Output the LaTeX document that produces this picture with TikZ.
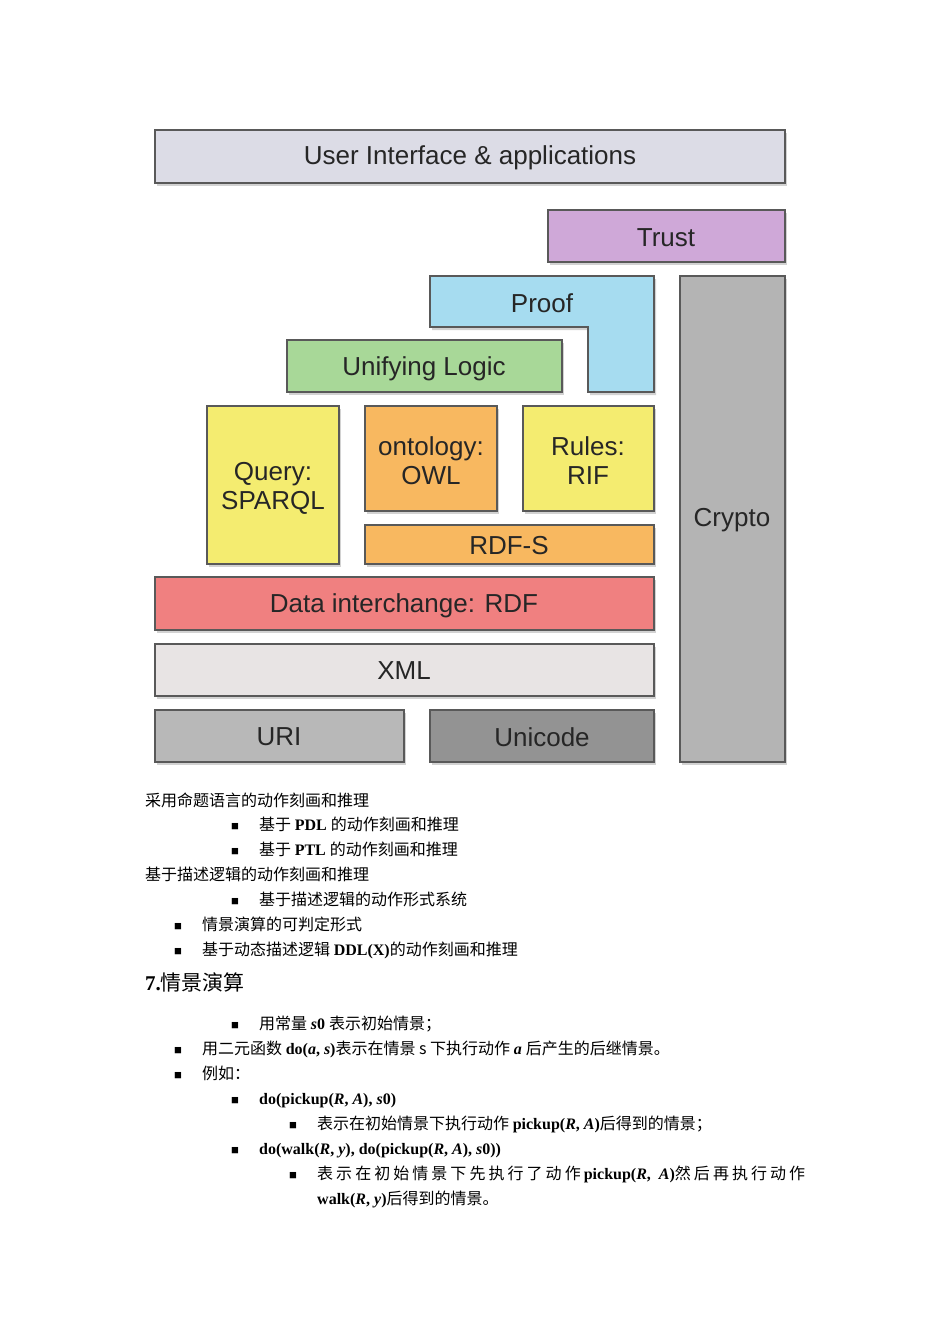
\documentclass[tikz,border=0pt]{standalone}
\usepackage{fontspec}
\setmainfont{Liberation Serif}
\newfontfamily\dsans{Liberation Sans}
\newfontfamily\cjk{Noto Sans CJK SC}
\usetikzlibrary{shadows}
\definecolor{cUI}{HTML}{DCDCE6}
\definecolor{cTrust}{HTML}{CFA8D8}
\definecolor{cProof}{HTML}{A6DCF0}
\definecolor{cLogic}{HTML}{A8D898}
\definecolor{cYel}{HTML}{F4EC70}
\definecolor{cOra}{HTML}{F8B860}
\definecolor{cRed}{HTML}{F08080}
\definecolor{cXML}{HTML}{E8E4E4}
\definecolor{cURI}{HTML}{B8B8B8}
\definecolor{cUni}{HTML}{939393}
\definecolor{cCry}{HTML}{B4B4B4}
\tikzset{
 blk/.style={draw=black!65, line width=1.2pt, drop shadow={shadow xshift=2pt,shadow yshift=-3pt,opacity=0.35}},
 lab/.style={font=\dsans\fontsize{26}{29}\selectfont, align=center, text=black!85},
 t/.style={anchor=base west, inner sep=0pt, font=\fontsize{16}{18}\selectfont},
 bul/.style={anchor=base west, inner sep=0pt, font=\fontsize{13}{14}\selectfont}
}
\begin{document}
\begin{tikzpicture}[x=1pt,y=-1pt]
\useasboundingbox[fill=white] (0,0) rectangle (950,1344);
\fill[blk,fill=cUI] (155,130) rectangle (785,183);
\node[lab] (ui) at (470,158) {User Interface \& applications};
\fill[blk,fill=cTrust] (548,210) rectangle (785,262);
\node[lab] (tr) at (666,238) {Trust};
\fill[blk,fill=cProof] (430,276) -- (654,276) -- (654,392) -- (588,392) -- (588,327) -- (430,327) -- cycle;
\node[lab] (pr) at (542,303) {Proof};
\fill[blk,fill=cLogic] (287,340) rectangle (562,392);
\node[lab] (ul) at (424,369) {Unifying Logic};
\fill[blk,fill=cYel] (207,406) rectangle (339,564);
\node[lab] (q) at (273,488) {Query:\\SPARQL};
\fill[blk,fill=cOra] (365,406) rectangle (497,511);
\node[lab] (o) at (431,461) {ontology:\\OWL};
\fill[blk,fill=cYel] (523,406) rectangle (654,511);
\node[lab] (r) at (588,461) {Rules:\\RIF};
\fill[blk,fill=cOra] (365,525) rectangle (654,564);
\node[lab] (rs) at (509,546) {RDF-S};
\fill[blk,fill=cRed] (155,577) rectangle (654,630);
\node[lab] (d) at (404,606) {Data interchange: RDF};
\fill[blk,fill=cXML] (155,644) rectangle (654,696);
\node[lab] (x) at (404,671) {XML};
\fill[blk,fill=cURI] (155,710) rectangle (404,762);
\node[lab] (u) at (279,737) {URI};
\fill[blk,fill=cUni] (430,710) rectangle (654,762);
\node[lab] (un) at (542,737) {Unicode};
\fill[blk,fill=cCry] (680,276) rectangle (785,762);
\node[lab] (c) at (732,520) {Crypto};

\node[t] (l1) at (145,806) {\cjk 采用命题语言的动作刻画和推理};
\node[bul] (b2) at (231,830) {■}; \node[t] (l2) at (259,830) {{\cjk 基于 }\textbf{PDL} {\cjk 的动作刻画和推理}};
\node[bul] (b3) at (231,855) {■}; \node[t] (l3) at (259,855) {{\cjk 基于 }\textbf{PTL} {\cjk 的动作刻画和推理}};
\node[t] (l4) at (145,880) {\cjk 基于描述逻辑的动作刻画和推理};
\node[bul] (b5) at (231,905) {■}; \node[t] (l5) at (259,905) {\cjk 基于描述逻辑的动作形式系统};
\node[bul] (b6) at (174,930) {■}; \node[t] (l6) at (202,930) {\cjk 情景演算的可判定形式};
\node[bul] (b7) at (174,955) {■}; \node[t] (l7) at (202,955) {{\cjk 基于动态描述逻辑 }\textbf{DDL(X)}{\cjk 的动作刻画和推理}};
\node[t,font=\fontsize{21}{24}\selectfont] (h) at (145,990) {\textbf{7.}{\cjk 情景演算}};
\node[bul] (b8) at (231,1029) {■}; \node[t] (l8) at (259,1029) {{\cjk 用常量 }\textbf{\textit{s}0} {\cjk 表示初始情景；}};
\node[bul] (b9) at (174,1054) {■}; \node[t] (l9) at (202,1054) {{\cjk 用二元函数 }\textbf{do(\textit{a}, \textit{s})}{\cjk 表示在情景 s 下执行动作 }\textbf{\textit{a}} {\cjk 后产生的后继情景。}};
\node[bul] (b10) at (174,1079) {■}; \node[t] (l10) at (202,1079) {\cjk 例如：};
\node[bul] (b11) at (231,1104) {■}; \node[t] (l11) at (259,1104) {\textbf{do(pickup(\textit{R}, \textit{A}), \textit{s}0)}};
\node[bul] (b12) at (289,1129) {■}; \node[t] (l12) at (317,1129) {{\cjk 表示在初始情景下执行动作 }\textbf{pickup(\textit{R}, \textit{A})}{\cjk 后得到的情景；}};
\node[bul] (b13) at (231,1154) {■}; \node[t] (l13) at (259,1154) {\textbf{do(walk(\textit{R}, \textit{y}), do(pickup(\textit{R}, \textit{A}), \textit{s}0))}};
\node[bul] (b14) at (289,1179) {■}; \node[t] (l14) at (317,1179) {\makebox[488pt][s]{{\cjk 表\hfill 示\hfill 在\hfill 初\hfill 始\hfill 情\hfill 景\hfill 下\hfill 先\hfill 执\hfill 行\hfill 了\hfill 动\hfill 作}\hfill\textbf{pickup(\textit{R},\ \ \textit{A})}{\cjk 然\hfill 后\hfill 再\hfill 执\hfill 行\hfill 动\hfill 作}}};
\node[t] (l15) at (317,1204) {\textbf{walk(\textit{R}, \textit{y})}{\cjk 后得到的情景。}};
\end{tikzpicture}
\end{document}
